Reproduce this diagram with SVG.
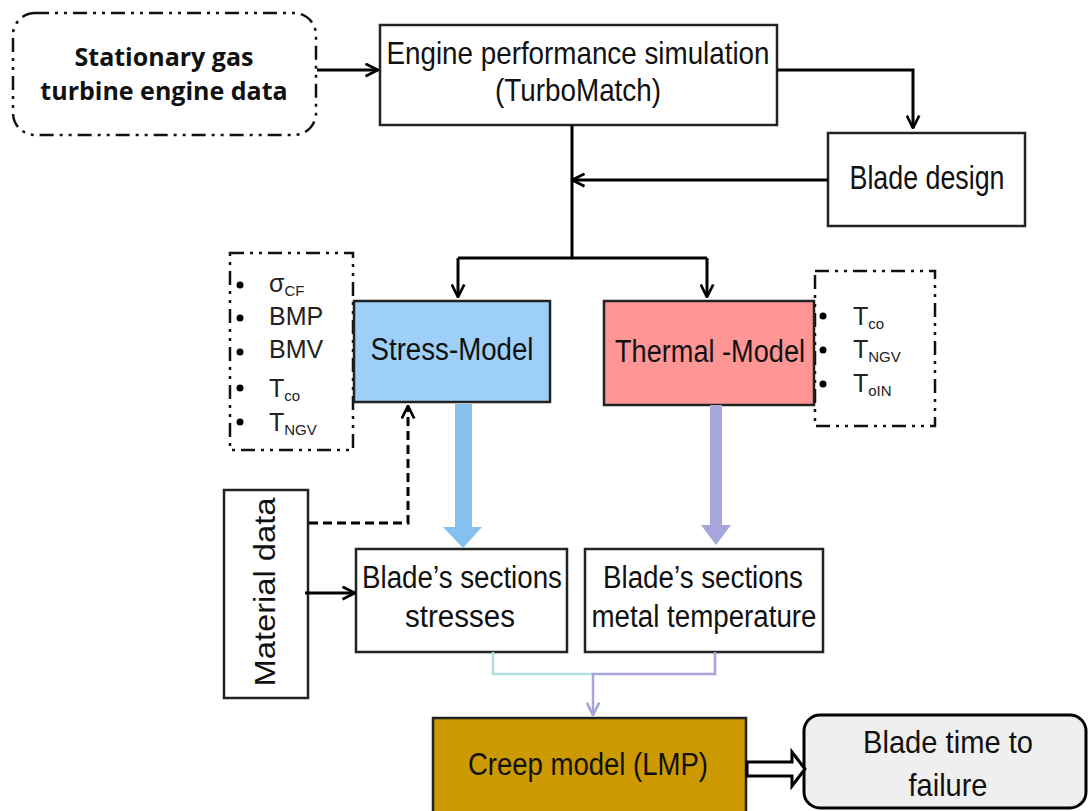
<svg xmlns="http://www.w3.org/2000/svg" width="1088" height="811" viewBox="0 0 1088 811">
<style>
.box{fill:#fff;stroke:#222;stroke-width:2.5}
.t{font-family:"Liberation Sans",Arial,sans-serif;fill:#111;text-anchor:middle}
.p{font-family:"Liberation Sans",Arial,sans-serif;fill:#222;font-size:25px}
.sub{font-size:15px}
.dd{fill:none;stroke:#111;stroke-width:2.5;stroke-dasharray:14 6 3 6 3 6}
.c{fill:none;stroke:#000;stroke-width:3}
.b{font-family:"Open Sans",sans-serif;font-weight:bold;font-size:25px;fill:#111;text-anchor:middle}
</style>
<defs>
<marker id="ah" viewBox="0 0 12 12" refX="11" refY="6" markerWidth="5" markerHeight="5" markerUnits="strokeWidth" orient="auto">
<path d="M1,1 L11,6 L1,11" fill="none" stroke="#000" stroke-width="2.2"/>
</marker>
<marker id="ahp" viewBox="0 0 12 12" refX="11" refY="6" markerWidth="6" markerHeight="6" markerUnits="strokeWidth" orient="auto">
<path d="M1,1 L11,6 L1,11" fill="none" stroke="#a6a6dc" stroke-width="2.2"/>
</marker>
</defs>

<g id="stationary">
<rect x="13" y="13" width="303" height="122" rx="22" fill="#fff" class="dd"/>
<text class="b" x="164" y="66">Stationary gas</text>
<text class="b" x="164" y="100">turbine engine data</text>
</g>

<g id="engine">
<rect class="box" x="380" y="25" width="397" height="100"/>
<text class="t" x="578" y="64" font-size="32" textLength="383" lengthAdjust="spacingAndGlyphs">Engine performance simulation</text>
<text class="t" x="578" y="101" font-size="32" textLength="166" lengthAdjust="spacingAndGlyphs">(TurboMatch)</text>
</g>

<g id="blade-design">
<rect class="box" x="828" y="133" width="197" height="93"/>
<text class="t" x="927" y="189" font-size="33" textLength="155" lengthAdjust="spacingAndGlyphs">Blade design</text>
</g>

<g id="stress-params">
<rect x="230" y="253" width="123" height="197" class="dd"/>
<g fill="#000"><circle cx="240" cy="285" r="3.5"/><circle cx="240" cy="318" r="3.5"/><circle cx="240" cy="352" r="3.5"/><circle cx="240" cy="388" r="3.5"/><circle cx="240" cy="422" r="3.5"/></g>
<text class="p" x="269" y="292">σ<tspan class="sub" dy="4">CF</tspan></text>
<text class="p" x="269" y="325">BMP</text>
<text class="p" x="269" y="358">BMV</text>
<text class="p" x="269" y="397">T<tspan class="sub" dy="4">co</tspan></text>
<text class="p" x="269" y="431">T<tspan class="sub" dy="4">NGV</tspan></text>
</g>

<g id="thermal-params">
<rect x="815" y="271" width="120" height="155" class="dd"/>
<g fill="#000"><circle cx="823" cy="316" r="3.5"/><circle cx="823" cy="350" r="3.5"/><circle cx="823" cy="384" r="3.5"/></g>
<text class="p" x="853" y="325">T<tspan class="sub" dy="4">co</tspan></text>
<text class="p" x="853" y="358">T<tspan class="sub" dy="4">NGV</tspan></text>
<text class="p" x="853" y="392">T<tspan class="sub" dy="4">oIN</tspan></text>
</g>

<g id="stress-model">
<rect x="354" y="301" width="196" height="101" fill="#9dcff9" stroke="#222" stroke-width="2.5"/>
<text class="t" x="452" y="360" font-size="31" textLength="163" lengthAdjust="spacingAndGlyphs">Stress-Model</text>
</g>

<g id="thermal-model">
<rect x="604" y="301" width="210" height="104" fill="#ff9696" stroke="#222" stroke-width="2.5"/>
<text class="t" x="710" y="362" font-size="31" textLength="190" lengthAdjust="spacingAndGlyphs">Thermal -Model</text>
</g>

<g id="material">
<rect class="box" x="224" y="490" width="84" height="208"/>
<text class="t" font-size="30" textLength="189" lengthAdjust="spacingAndGlyphs" transform="translate(275,592) rotate(-90)">Material data</text>
</g>

<g id="stresses">
<rect class="box" x="356" y="549" width="211" height="103"/>
<text class="t" x="462" y="588" font-size="31" textLength="200" lengthAdjust="spacingAndGlyphs">Blade’s sections</text>
<text class="t" x="460" y="627" font-size="31" textLength="110" lengthAdjust="spacingAndGlyphs">stresses</text>
</g>

<g id="temperature">
<rect class="box" x="585" y="549" width="238" height="103"/>
<text class="t" x="703" y="588" font-size="31" textLength="200" lengthAdjust="spacingAndGlyphs">Blade’s sections</text>
<text class="t" x="704" y="627" font-size="31" textLength="225" lengthAdjust="spacingAndGlyphs">metal temperature</text>
</g>

<g id="creep">
<rect x="433" y="718" width="313" height="100" fill="#cc9900" stroke="#222" stroke-width="2.5"/>
<text class="t" x="588" y="775" font-size="31" textLength="240" lengthAdjust="spacingAndGlyphs">Creep model (LMP)</text>
</g>

<g id="failure">
<rect x="804" y="715" width="282" height="93" rx="16" fill="#efefef" stroke="#000" stroke-width="3"/>
<text class="t" x="948" y="753" font-size="32" textLength="170" lengthAdjust="spacingAndGlyphs">Blade time to</text>
<text class="t" x="948" y="796" font-size="32" textLength="79" lengthAdjust="spacingAndGlyphs">failure</text>
</g>

<g id="connectors">
<path class="c" d="M317,70 H378" marker-end="url(#ah)"/>
<path class="c" d="M777,70 H913 V128" marker-end="url(#ah)"/>
<path class="c" d="M828,180 H572"  marker-end="url(#ah)"/>
<path class="c" d="M572,125 V258"/>
<path class="c" d="M458,258 H707"/>
<path class="c" d="M458,258 V297" marker-end="url(#ah)"/>
<path class="c" d="M707,258 V297" marker-end="url(#ah)"/>
<path class="c" d="M309,523 H408 V406" stroke-dasharray="9 5" marker-end="url(#ah)"/>
<path class="c" d="M305,593 H355" marker-end="url(#ah)"/>
<path d="M455,404 H472 V527 H482 L463,548 L443,527 H455 Z" fill="#85c1ee"/>
<path d="M710,405 H722 V525 H731 L716,545 L701,525 H710 Z" fill="#a6a6dc"/>
<path d="M493,652 V674 H593" fill="none" stroke="#b5dfe0" stroke-width="2.5"/>
<path d="M715,652 V674 H593 V715" fill="none" stroke="#a6a6dc" stroke-width="2.5" marker-end="url(#ahp)"/>
<path d="M747,762 H792 V752 L805,769 L792,786 V776 H747 Z" fill="#fff" stroke="#000" stroke-width="3" stroke-linejoin="miter"/>
</g>
</svg>
